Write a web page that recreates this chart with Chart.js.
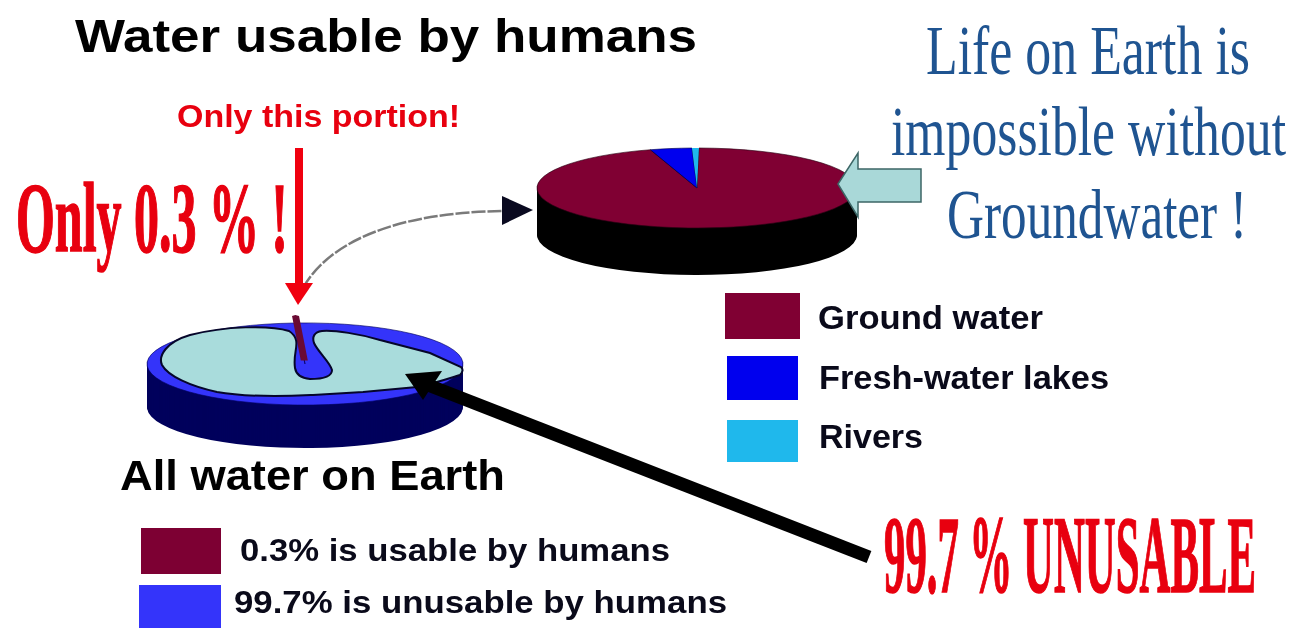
<!DOCTYPE html>
<html>
<head>
<meta charset="utf-8">
<title>Water usable by humans</title>
<script src="https://cdn.jsdelivr.net/npm/chart.js@4"></script>
<style>
  html, body { margin: 0; padding: 0; background: #fff; }
  #page { position: relative; width: 1294px; height: 628px; overflow: hidden; }
  #page canvas { position: absolute; }
  #overlay { position: absolute; left: 0; top: 0; }
  .sans { font-family: "Liberation Sans", Arial, sans-serif; font-weight: bold; }
  .serif { font-family: "Liberation Serif", "Times New Roman", serif; }
  .red { font-weight: bold; fill: #e8000f; stroke: #e8000f; stroke-width: 1.6; }
  .blue { fill: #1f5491; }
</style>
</head>
<body>
<div id="page">
  <div id="groundBox" style="position:absolute;left:462px;top:-47px;width:470px;height:470px"><canvas id="freshChart"></canvas></div>
  <div id="earthBox" style="position:absolute;left:70px;top:129px;width:470px;height:470px"><canvas id="earthChart"></canvas></div>

  <svg id="overlay" width="1294" height="628" xmlns="http://www.w3.org/2000/svg">
    <!-- Pale water area on top of the lower pie -->
    <path d="M289 331 C270 325 225 326 190 335 C166 342 158 356 162 365 C168 376 190 386 217 392
             C250 398 290 396 313 395 L363 392 L417 387 C432 384 447 379 460 375 C463 372 463 369 461 367
             L430 353 L380 340 C360 334 335 330 322 331 C314 332 312 337 314 343 C318 352 330 362 332 370
             C332 376 326 379 310 379 C300 378 296 374 295 368 C293 355 298 347 296 340 C295 336 292 333 289 331 Z"
          fill="#a9dcdc" stroke="#06062a" stroke-width="2"/>

    <!-- Curved arrow between the pies -->
    <path d="M303 288 C330 240 400 212 505 211" fill="none" stroke="#7a7a7a" stroke-width="2.5" stroke-dasharray="14 2"/>
    <polygon points="502,196 533,210 502,225" fill="#0a0a20"/>

    <!-- Red arrow down to the small slice -->
    <rect x="295" y="148" width="8" height="138" fill="#f0000f"/>
    <polygon points="285,283 313,283 298,305" fill="#f0000f"/>

    <!-- Pale arrow pointing at the ground water -->
    <polygon points="838,184 858,153 858,169 921,169 921,202 858,202 858,217"
             fill="#a9d8d8" stroke="#3c6666" stroke-width="1.5"/>

    <!-- Black arrow from the unusable label -->
    <line x1="869" y1="557" x2="428" y2="385" stroke="#000" stroke-width="13"/>
    <polygon points="405,374 442,371 423,400" fill="#000"/>

    <text class="sans" x="75" y="52" font-size="46" textLength="622" lengthAdjust="spacingAndGlyphs">Water usable by humans</text>
    <text class="sans" x="177" y="127" font-size="32" textLength="283" lengthAdjust="spacingAndGlyphs" fill="#e8000f">Only this portion!</text>
    <text class="serif red" x="16" y="251" font-size="100" textLength="272" lengthAdjust="spacingAndGlyphs">Only 0.3 % !</text>
    <text class="serif red" x="884" y="592" font-size="110" textLength="372" lengthAdjust="spacingAndGlyphs">99.7 % UNUSABLE</text>

    <text class="serif blue" x="926" y="74" font-size="70" textLength="324" lengthAdjust="spacingAndGlyphs">Life on Earth is</text>
    <text class="serif blue" x="891" y="155" font-size="70" textLength="395" lengthAdjust="spacingAndGlyphs">impossible without</text>
    <text class="serif blue" x="947" y="238" font-size="70" textLength="300" lengthAdjust="spacingAndGlyphs">Groundwater !</text>

    <text class="sans" x="120" y="490" font-size="43" textLength="385" lengthAdjust="spacingAndGlyphs">All water on Earth</text>
    <g id="legends"></g>
  </svg>
</div>

<script>
// Fresh water split (percent)
const freshLabels = ['Ground water', 'Fresh-water lakes', 'Rivers'];
const freshValues = [95.1, 4.2, 0.7];
const freshColors = ['#800033', '#0000ee', '#1fb8ec'];
const freshWalls = ['#000000', '#000000', '#000000'];

// All water on Earth (percent). The big slice comes first so the small one draws on top of it.
const earthLabels = ['99.7% is unusable by humans', '0.3% is usable by humans'];
const earthValues = [99.7, 0.3];
const earthColors = ['#3434fa', '#7d0033'];
const earthWalls = ['#00005c', '#00005c'];

// Squashes a pie into an ellipse and extrudes a side wall under it
const tiltPlugin = {
    id: 'tilt',
    beforeDatasetsDraw(chart, args, opts) {
        const ctx = chart.ctx;
        const cy = chart.height / 2;
        ctx.save();
        ctx.translate(0, cy);
        ctx.scale(1, opts.squash);
        ctx.translate(0, -cy);
        chart.getDatasetMeta(0).data.forEach((arc, i) => {
            const { x, y, startAngle, endAngle, outerRadius } =
                arc.getProps(['x', 'y', 'startAngle', 'endAngle', 'outerRadius'], true);
            ctx.fillStyle = opts.walls[i];
            for (let d = opts.depth; d > 0; d--) {
                const wy = y + d / opts.squash;
                ctx.beginPath();
                ctx.moveTo(x, wy);
                ctx.arc(x, wy, outerRadius, startAngle, endAngle);
                ctx.closePath();
                ctx.fill();
            }
        });
    },
    afterDatasetsDraw(chart) {
        chart.ctx.restore();
    }
};

function makePie(id, labels, values, colors, borders, borderWidths, offsets, rotation, radius, squash, depth, walls) {
    return new Chart(document.getElementById(id), {
        type: 'pie',
        data: {
            labels: labels,
            datasets: [{
                data: values,
                backgroundColor: colors,
                borderColor: borders,
                borderWidth: borderWidths,
                offset: offsets
            }]
        },
        options: {
            responsive: true,
            maintainAspectRatio: false,
            animation: false,
            events: [],
            rotation: rotation,
            radius: radius,
            layout: { padding: 0 },
            plugins: {
                legend: { display: false },
                tooltip: { enabled: false },
                tilt: { squash: squash, depth: depth, walls: walls }
            }
        },
        plugins: [tiltPlugin]
    });
}

// Ground water slice starts just right of the top
makePie('freshChart', freshLabels, freshValues, freshColors,
    ['#2a0014', '#00004a', '#1fb8ec'], [1, 1, 0], [0, 0, 0],
    0.7, 160, 0.25, 47, freshWalls);

// The small usable slice is lifted out of the pie
makePie('earthChart', earthLabels, earthValues, earthColors,
    ['#00005c', '#6a0a33'], [1, 7], [0, 54],
    -2.4, 158, 0.26, 43, earthWalls);

// Legend rows: swatches and labels share the chart's colours
function addLegend(labels, colors, rows) {
    const svgNS = 'http://www.w3.org/2000/svg';
    const group = document.getElementById('legends');
    labels.forEach((label, i) => {
        const r = rows[i];
        const rect = document.createElementNS(svgNS, 'rect');
        rect.setAttribute('x', r.x);
        rect.setAttribute('y', r.y);
        rect.setAttribute('width', r.w);
        rect.setAttribute('height', r.h);
        rect.setAttribute('fill', colors[i]);
        group.appendChild(rect);

        const text = document.createElementNS(svgNS, 'text');
        text.setAttribute('class', 'sans');
        text.setAttribute('x', r.tx);
        text.setAttribute('y', r.ty);
        text.setAttribute('font-size', r.size);
        text.setAttribute('textLength', r.tw);
        text.setAttribute('lengthAdjust', 'spacingAndGlyphs');
        text.setAttribute('fill', '#0a0a1a');
        text.textContent = label;
        group.appendChild(text);
    });
}

addLegend(freshLabels, freshColors, [
    { x: 725, y: 293, w: 75, h: 46, tx: 818, ty: 329, tw: 225, size: 34 },
    { x: 727, y: 356, w: 71, h: 44, tx: 819, ty: 389, tw: 290, size: 34 },
    { x: 727, y: 420, w: 71, h: 42, tx: 819, ty: 448, tw: 104, size: 34 }
]);
addLegend(earthLabels, earthColors, [
    { x: 139, y: 585, w: 82, h: 43, tx: 234, ty: 613, tw: 493, size: 32 },
    { x: 141, y: 528, w: 80, h: 46, tx: 240, ty: 561, tw: 430, size: 32 }
]);
</script>
</body>
</html>
